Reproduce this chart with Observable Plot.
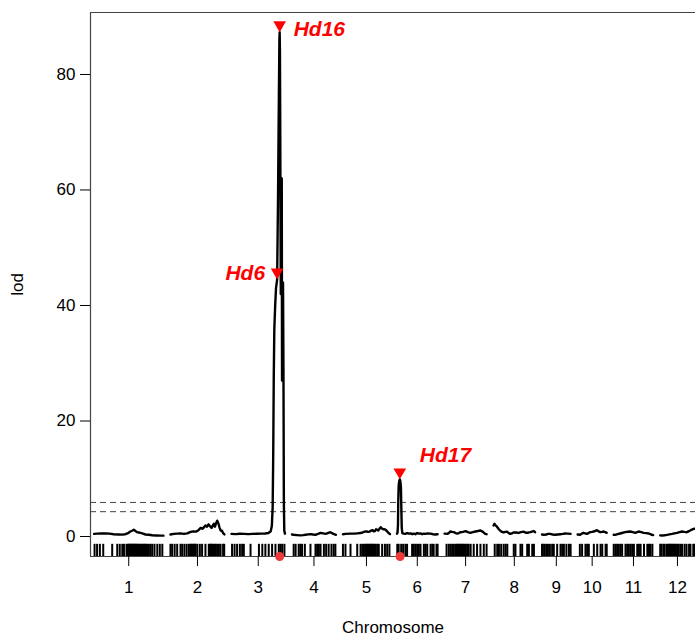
<!DOCTYPE html>
<html><head><meta charset="utf-8">
<script src="https://cdn.jsdelivr.net/npm/d3@7"></script>
<script src="https://cdn.jsdelivr.net/npm/@observablehq/plot@0.6"></script>
<style>body{margin:0;background:#fff;}</style>
</head><body><div id="chart"></div>
<script>
// ---- data ----
const chromosomes = ["1","2","3","4","5","6","7","8","9","10","11","12"];
const chrLengths = [248, 193, 191, 157, 168, 145, 150, 148, 102, 104, 141, 123]; // cM
const chrGap = 25;
const yTicks = [0, 20, 40, 60, 80];
const thresholds = [5.9, 4.3];

// LOD curves: [position cM, lod]
const lod1 = [[0,.45],[12,.5],[25,.52],[41,.55],[55,.5],[70,.4],[89,.35],[100,.32],[112,.4],[122,.6],[130,.87],[136,1.0],[142,1.16],[148,.95],[154,.75],[160,.7],[166,.62],[175,.5],[184,.35],[196,.3],[208,.22],[222,.18],[237,.15],[248,.15]];
const lod2 = [[0,.35],[12,.45],[24,.5],[36,.55],[48,.45],[60,.55],[72,.8],[82,.9],[92,.85],[100,1.1],[108,1.5],[114,1.35],[120,1.6],[125,1.9],[130,1.7],[136,2.1],[141,1.8],[147,1.5],[151,1.9],[155,2.2],[159,1.7],[163,2.3],[167,2.75],[171,2.3],[175,1.6],[179,1.05],[184,1.0],[188,.6],[193,.35]];
const lod3 = [[0,.45],[15,.42],[30,.48],[45,.45],[60,.42],[75,.45],[90,.48],[105,.5],[120,.52],[132,.6],[140,.9],[144,1.8],[147,5],[149,14],[151,28],[153,36],[156,40],[159,43],[163,44.5],[166,58],[169,75],[171,86],[172,87.3],[173,84],[174,72],[176,42],[178,50],[179.5,62],[180.5,27],[182,36],[184,44],[185.5,30],[187,6],[188.5,1],[191,.5]];
const lod4 = [[0,.35],[6,.3],[18,.25],[30,.2],[40,.25],[48,.3],[58,.38],[66,.42],[75,.35],[84,.3],[93,.45],[102,.62],[111,.55],[120,.46],[128,.6],[137,.75],[146,.5],[157,.3]];
const lod5 = [[0,.4],[10,.45],[27,.5],[40,.5],[52,.55],[62,.6],[70,.7],[77,.85],[84,.9],[90,.8],[95,.85],[100,1.0],[106,1.1],[110,.9],[114,.95],[118,1.25],[122,1.2],[126,1.05],[130,1.3],[135,1.6],[139,1.4],[144,1.25],[150,1.25],[156,1.0],[162,.65],[168,.4]];
const lod6 = [[0,.5],[2,.7],[3.5,2],[4.5,6],[6,8.8],[8,9.6],[10,9.9],[12,9.6],[14,8.6],[15.5,5],[17,1.5],[19,.6],[24,.5],[30,.45],[36,.6],[42,.5],[48,.55],[55,.4],[60,.5],[66,.4],[72,.6],[78,.5],[84,.55],[90,.4],[96,.5],[102,.45],[110,.55],[120,.5],[128,.4],[137,.35],[145,.4]];
const lod7 = [[0,.5],[9,.46],[15,.6],[21,.87],[27,.8],[33,.75],[39,.6],[45,.52],[51,.6],[57,.75],[66,.8],[75,.92],[83,.75],[92,.64],[101,.75],[110,.87],[119,.95],[128,1.04],[137,.8],[145,.46],[150,.4]];
const lod8 = [[0,1.9],[3,2.2],[6,2.0],[12,1.7],[18,1.3],[24,1.0],[30,.8],[36,.7],[42,.8],[48,.85],[54,.6],[59,.45],[65,.55],[71,.7],[80,.7],[89,.62],[98,.75],[107,.85],[113,.7],[119,.62],[125,.7],[131,.75],[137,.85],[143,.95],[148,.75]];
const lod9 = [[0,.35],[6,.3],[15,.35],[22,.45],[29,.46],[38,.35],[47,.3],[56,.35],[65,.4],[74,.45],[83,.52],[92,.5],[102,.46]];
const lod10 = [[0,.35],[9,.3],[15,.5],[21,.64],[27,.55],[33,.46],[39,.6],[45,.75],[51,.8],[57,.87],[63,.95],[69,1.1],[75,.9],[81,.75],[87,.8],[93,.87],[99,.75],[104,.64]];
const lod11 = [[0,.3],[5,.29],[14,.4],[23,.52],[32,.65],[41,.75],[50,.82],[59,.87],[68,.75],[77,.64],[83,.75],[89,.87],[98,.75],[107,.64],[116,.58],[125,.52],[131,.4],[136,.3],[141,.25]];
const lod12 = [[0,.2],[6,.17],[15,.22],[24,.29],[33,.38],[42,.46],[51,.55],[60,.64],[69,.75],[78,.87],[86,.8],[95,.75],[101,.9],[107,1.04],[113,1.2],[119,1.33],[123,1.35]];
const lodCurves = [lod1, lod2, lod3, lod4, lod5, lod6, lod7, lod8, lod9, lod10, lod11, lod12];

// marker positions (cM) for the rug
const markers1 = [2,11,21,33,65,83,92,101,107,116,121,124,127,130,133,136,139,142,145,148,151,154,158,162,166,170,174,178,182,186,190,196,202,208,216,226,235,244];
const markers2 = [0,6,15,24,36,42,50,58,66,72,75,79,83,87,90,96,105,113,125,137,141,145,149,153,158,162,167,173,179,188,192];
const markers3 = [2,11,20,30,38,44,68,98,110,121,133,145,157,169,175,181,189];
const markers4 = [6,13,24,30,36,46,66,84,90,96,102,114,122,131,141,149,155];
const markers5 = [0,9,27,51,63,69,75,81,84,88,92,96,100,104,108,112,116,122,128,140,150,158,166];
const markers6 = [1,6,15,22,30,36,54,60,66,72,78,84,96,102,108,120,126,131,141,145];
const markers7 = [7,15,21,27,33,39,43,47,51,55,59,63,67,71,76,81,86,93,104,116,128,140,150];
const markers8 = [4,13,19,27,36,43,49,72,78,96,102,120,126,138,144];
const markers9 = [0,3,9,15,21,28,36,42,54,66,72,78,87,96,102];
const markers10 = [8,16,28,34,40,58,70,82,88,100,104];
const markers11 = [0,6,12,18,24,30,42,48,54,60,66,72,84,90,96,108,120,126,131,138];
const markers12 = [0,4,11,15,22,27,31,35,39,43,47,51,56,61,66,72,78,87,94,103,108,118,123];
const markerLists = [markers1, markers2, markers3, markers4, markers5, markers6, markers7, markers8, markers9, markers10, markers11, markers12];

// QTL annotations
const qtlNames = ["Hd16", "Hd6", "Hd17"];
const qtlChr = ["3", "3", "6"];
const qtlPos = [172, 163, 10];
const qtlLod = [87.3, 44.5, 9.9];
const peakDotChr = ["3", "6"];
const peakDotPos = [172, 11];

// ---- layout helpers ----
const chrStart = {};
let acc = 0;
chromosomes.forEach((c, i) => { chrStart[c] = acc; acc += chrLengths[i] + chrGap; });
const centers = chromosomes.map((c, i) => chrStart[c] + chrLengths[i] / 2);

const lodData = lodCurves.flatMap((curve, i) => curve.map(([p, l]) => ({chr: chromosomes[i], x: chrStart[chromosomes[i]] + p, lod: l})));
const rugData = markerLists.flatMap((m, i) => m.map(p => ({x: chrStart[chromosomes[i]] + p})));
const qtl = qtlNames.map((n, i) => ({name: n, x: chrStart[qtlChr[i]] + qtlPos[i], lod: qtlLod[i]}));
const peakDots = peakDotChr.map((c, i) => ({x: chrStart[c] + peakDotPos[i]}));

const xMin = -chrGap / 2, xMax = 2148;
const yMin = -3.46, yMax = 90.73, rugTop = -1.35;
const red = "#ff0000";
const annFont = {fontFamily: "'Liberation Sans', Arial, sans-serif", fontWeight: "bold", fontStyle: "italic", fontSize: 21, fill: red};

const chart = Plot.plot({
  width: 695, height: 637,
  marginLeft: 90, marginRight: 0, marginTop: 12, marginBottom: 81,
  x: {domain: [xMin, xMax]},
  y: {domain: [yMin, yMax]},
  style: {fontFamily: "'Liberation Sans', Arial, sans-serif", fontSize: "17px", color: "#000", background: "#fff"},
  marks: [
    Plot.ruleY(thresholds, {stroke: "#444", strokeWidth: 1, strokeDasharray: "6,4"}),
    Plot.ruleX(rugData, {x: "x", y1: yMin, y2: rugTop, stroke: "#000", strokeWidth: 2}),
    Plot.line(lodData, {x: "x", y: "lod", z: "chr", stroke: "#000", strokeWidth: 2.4, curve: "linear"}),
    Plot.ruleX([xMin], {stroke: "#444", strokeWidth: 1.2}),
    Plot.ruleY([yMin, yMax], {stroke: "#444", strokeWidth: 1.2}),
    Plot.dot(peakDots, {x: "x", y: () => yMin, r: 4.5, fill: "#ee3a3a", stroke: "none"}),
    Plot.dot(qtl, {x: "x", y: "lod", symbol: "triangle", rotate: 180, r: 4.7, fill: red, stroke: "none", dy: -7.3}),
    Plot.text(qtl.filter(d => d.name === "Hd16"), {x: "x", y: "lod", text: "name", textAnchor: "start", dx: 14, dy: -3, ...annFont}),
    Plot.text(qtl.filter(d => d.name === "Hd6"), {x: "x", y: "lod", text: "name", textAnchor: "end", dx: -12, dy: -6, ...annFont}),
    Plot.text(qtl.filter(d => d.name === "Hd17"), {x: "x", y: "lod", text: "name", textAnchor: "start", dx: 20, dy: -24, ...annFont}),
    Plot.axisY({ticks: yTicks, tickSize: 10, tickPadding: 5, label: "lod", labelAnchor: "center", labelArrow: false, labelOffset: 80}),
    Plot.axisX({ticks: centers, tickFormat: d => chromosomes[centers.indexOf(d)], tickSize: 10, tickPadding: 14, label: "Chromosome", labelAnchor: "center", labelArrow: false, labelOffset: 76})
  ]
});
document.getElementById("chart").appendChild(chart);
</script>
</body></html>
